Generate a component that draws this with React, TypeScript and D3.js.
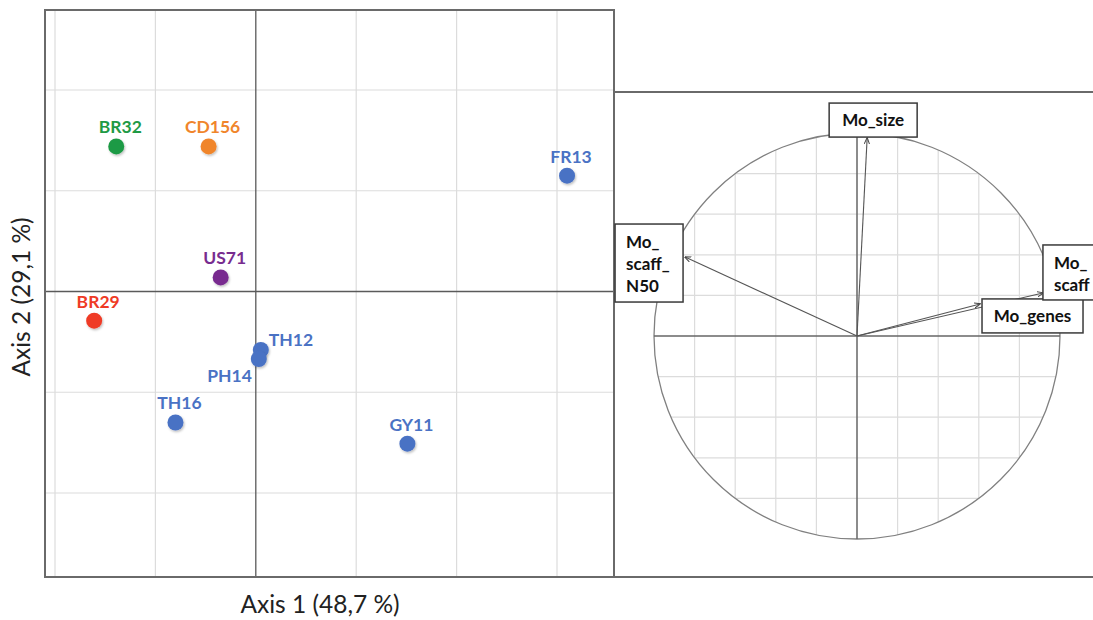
import React from "react";
import * as d3 from "d3";

// ---- Individuals (PCA scores) ----
const samples = ["BR32", "CD156", "FR13", "US71", "BR29", "TH12", "PH14", "TH16", "GY11"];
const axis1 = [-1.39, -0.47, 3.1, -0.35, -1.61, 0.05, 0.03, -0.8, 1.51];
const axis2 = [1.44, 1.44, 1.15, 0.14, -0.29, -0.58, -0.67, -1.3, -1.51];
const groups = ["green", "orange", "blue", "purple", "red", "blue", "blue", "blue", "blue"];
const labelSide = ["above", "above", "above", "above", "above", "right", "belowLeft", "above", "above"];

// grid ticks
const gridX = [-2, -1, 1, 2, 3];
const gridY = [-2, -1, 1, 2];

// ---- Variables (correlation circle) ----
const variables = ["Mo_size", "Mo_scaff_N50", "Mo_genes", "Mo_scaff"];
const load1 = [0.05, -0.847, 0.606, 0.916];
const load2 = [0.975, 0.389, 0.158, 0.212];
const varLines = [["Mo_size"], ["Mo_", "scaff_", "N50"], ["Mo_genes"], ["Mo_", "scaff"]];
const circleGrid = [-0.8, -0.6, -0.4, -0.2, 0.2, 0.4, 0.6, 0.8];

const colorMap: Record<string, string> = {
  green: "#1f9a45",
  orange: "#f0852b",
  blue: "#4a72c4",
  purple: "#782c8f",
  red: "#ef3a25",
};

// label box layout (relative to arrow tip, px)
const boxLayout = [
  { w: 88, h: 34, dx: -38, dy: -35, align: "middle" },
  { w: 68, h: 78, dx: -70, dy: -33, align: "start" },
  { w: 101, h: 34, dx: 2, dy: -5, align: "middle" },
  { w: 62, h: 55, dx: 0, dy: -48, align: "start" },
];

const FONT = "Lato, 'Open Sans', sans-serif";

export default function App() {
  // left panel scales
  const x = d3.scaleLinear().domain([-2, 3]).range([55, 557]);
  const y = d3.scaleLinear().domain([-2, 2]).range([493, 90]);
  const xMin = x.invert(45), xMax = x.invert(614);
  const yMin = y.invert(577), yMax = y.invert(10);

  // right panel scales
  const cx = d3.scaleLinear().domain([-1, 1]).range([857 - 203, 857 + 203]);
  const cy = d3.scaleLinear().domain([-1, 1]).range([336 + 203, 336 - 203]);
  const R = cx(1) - cx(0);

  const gridColor = "#dcdcdc";
  const axisColor = "#5a5a5a";

  return (
    <svg width={1093} height={620} style={{ position: "absolute", left: 0, top: 0, background: "#fff" }}>
      <defs>
        <filter id="sh" x="-50%" y="-50%" width="200%" height="200%">
          <feDropShadow dx="1" dy="1.5" stdDeviation="1" floodColor="#000" floodOpacity="0.25" />
        </filter>
        <marker id="arr" viewBox="0 0 10 10" refX="9" refY="5" markerWidth="6" markerHeight="6" orient="auto">
          <path d="M0,1 L10,5 L0,9" fill="none" stroke="#444" strokeWidth="1.5" />
        </marker>
      </defs>

      {/* ---------- Left panel ---------- */}
      <g>
        {gridX.map((v) => (
          <line key={"gx" + v} x1={x(v)} x2={x(v)} y1={y(yMax)} y2={y(yMin)} stroke={gridColor} strokeWidth={1.2} />
        ))}
        {gridY.map((v) => (
          <line key={"gy" + v} x1={x(xMin)} x2={x(xMax)} y1={y(v)} y2={y(v)} stroke={gridColor} strokeWidth={1.2} />
        ))}
        <line x1={x(0)} x2={x(0)} y1={y(yMax)} y2={y(yMin)} stroke={axisColor} strokeWidth={1.3} />
        <line x1={x(xMin)} x2={x(xMax)} y1={y(0)} y2={y(0)} stroke={axisColor} strokeWidth={1.3} />
        <rect x={x(xMin)} y={y(yMax)} width={x(xMax) - x(xMin)} height={y(yMin) - y(yMax)} fill="none" stroke="#6a6a6a" strokeWidth={2} />

        {samples.map((s, i) => {
          const px = x(axis1[i]);
          const py = y(axis2[i]);
          const col = colorMap[groups[i]];
          const side = labelSide[i];
          let tx = px + 4, ty = py - 13, anchor = "middle";
          if (side === "right") { tx = px + 8; ty = py - 4; anchor = "start"; }
          if (side === "belowLeft") { tx = px - 7; ty = py + 23; anchor = "end"; }
          return (
            <g key={s}>
              <circle cx={px} cy={py} r={8} fill={col} filter="url(#sh)" />
              <text x={tx} y={ty} textAnchor={anchor} fill={col} fontFamily={FONT} fontWeight={700} fontSize={17.5}>
                {s}
              </text>
            </g>
          );
        })}

        <text x={320} y={613} textAnchor="middle" fontFamily={FONT} fontSize={24.5} fill="#222">
          Axis 1 (48,7 %)
        </text>
        <text transform={`translate(30,297) rotate(-90)`} textAnchor="middle" fontFamily={FONT} fontSize={24.5} fill="#222">
          Axis 2 (29,1 %)
        </text>
      </g>

      {/* ---------- Right panel ---------- */}
      <g>
        <path d="M614,577 L614,92 L1093,92" fill="none" stroke="#6a6a6a" strokeWidth={2} />
        <line x1={614} x2={1093} y1={577} y2={577} stroke="#6a6a6a" strokeWidth={2} />

        {circleGrid.map((v) => {
          const h = Math.sqrt(1 - v * v);
          return (
            <g key={"cg" + v}>
              <line x1={cx(v)} x2={cx(v)} y1={cy(h)} y2={cy(-h)} stroke={gridColor} strokeWidth={1.2} />
              <line x1={cx(-h)} x2={cx(h)} y1={cy(v)} y2={cy(v)} stroke={gridColor} strokeWidth={1.2} />
            </g>
          );
        })}
        <circle cx={cx(0)} cy={cy(0)} r={R} fill="none" stroke="#808080" strokeWidth={1.3} />
        <line x1={cx(-1)} x2={cx(1)} y1={cy(0)} y2={cy(0)} stroke="#666" strokeWidth={1.5} />
        <line x1={cx(0)} x2={cx(0)} y1={cy(1)} y2={cy(-1)} stroke="#666" strokeWidth={1.5} />

        {variables.map((v, i) => {
          const tx = cx(load1[i]);
          const ty = cy(load2[i]);
          return (
            <line key={"ar" + v} x1={cx(0)} y1={cy(0)} x2={tx} y2={ty} stroke="#555" strokeWidth={1.1} markerEnd="url(#arr)" />
          );
        })}

        {variables.map((v, i) => {
          const tx = cx(load1[i]);
          const ty = cy(load2[i]);
          const b = boxLayout[i];
          const bx = tx + b.dx;
          const by = ty + b.dy;
          const lines = varLines[i];
          return (
            <g key={"bx" + v}>
              <rect x={bx} y={by} width={b.w} height={b.h} fill="#fff" stroke="#3a3a3a" strokeWidth={1.5} />
              {lines.map((ln, k) => (
                <text
                  key={k}
                  x={b.align === "middle" ? bx + b.w / 2 : bx + 11}
                  y={lines.length === 1 ? by + b.h / 2 + 6 : by + 24 + k * 22}
                  textAnchor={b.align}
                  fontFamily={FONT}
                  fontWeight={700}
                  fontSize={17}
                  fill="#111"
                >
                  {ln}
                </text>
              ))}
            </g>
          );
        })}
      </g>
    </svg>
  );
}
